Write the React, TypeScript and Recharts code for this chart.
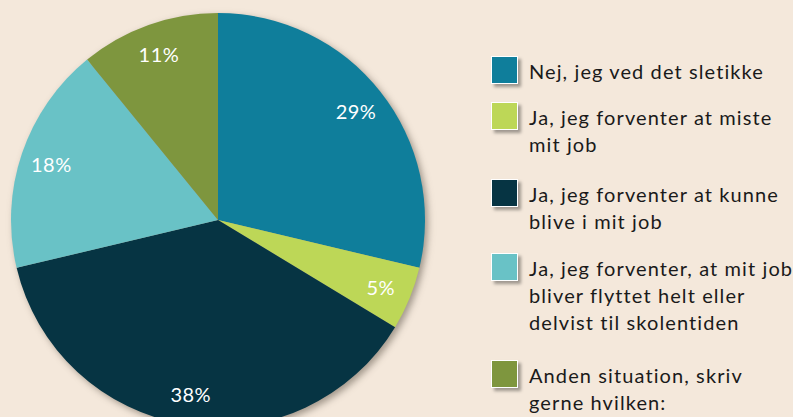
import React from 'react';
import { PieChart, Pie, Cell, Legend } from 'recharts';

const categories = [
  'Nej, jeg ved det sletikke',
  'Ja, jeg forventer at miste mit job',
  'Ja, jeg forventer at kunne blive i mit job',
  'Ja, jeg forventer, at mit job bliver flyttet helt eller delvist til skolentiden',
  'Anden situation, skriv gerne hvilken:',
];
const legendLines = [
  ['Nej, jeg ved det sletikke'],
  ['Ja, jeg forventer at miste', 'mit job'],
  ['Ja, jeg forventer at kunne', 'blive i mit job'],
  ['Ja, jeg forventer, at mit job', 'bliver flyttet helt eller', 'delvist til skolentiden'],
  ['Anden situation, skriv', 'gerne hvilken:'],
];
const values = [29, 5, 38, 18, 11];
const colors = ['#0F7E9B', '#BDD757', '#063443', '#69C2C6', '#7E963E'];

const data = categories.map((name, i) => ({ name, value: values[i] }));
const shadowData = [{ name: 'shadow', value: 1 }];

const FONT = 'Lato, "Open Sans", sans-serif';
const RADIAN = Math.PI / 180;

const renderLabel = (props: any) => {
  const { cx, cy, midAngle, outerRadius, value } = props;
  const r = outerRadius * 0.85;
  const x = cx + r * Math.cos(-midAngle * RADIAN);
  const y = cy + r * Math.sin(-midAngle * RADIAN);
  return (
    <text x={x} y={y} fill="#ffffff" textAnchor="middle" dominantBaseline="central"
      style={{ fontFamily: FONT, fontSize: 20, letterSpacing: 0.5 }}>
      {`${value}%`}
    </text>
  );
};

const itemGaps = [0, 17, 21, 18, 24];

const renderLegend = () => (
  <div style={{ fontFamily: FONT }}>
    {legendLines.map((lines, i) => (
      <div key={i} style={{ display: 'flex', alignItems: 'flex-start', marginTop: itemGaps[i] }}>
        <div style={{
          width: 25, height: 26, background: colors[i], border: '1.5px solid #ffffff',
          boxShadow: '3px 3px 3px rgba(0,0,0,0.35)', marginRight: 11, flexShrink: 0,
        }} />
        <div style={{ fontSize: 20, lineHeight: '27px', color: '#1a1a1a', marginTop: 2, letterSpacing: 1.1 }}>
          {lines.map((l, j) => (<div key={j} style={{ whiteSpace: 'nowrap' }}>{l}</div>))}
        </div>
      </div>
    ))}
  </div>
);

export default function App() {
  return (
    <div style={{ position: 'absolute', left: 0, top: 0, width: 793, height: 417, background: '#F4E8DB', overflow: 'hidden' }}>
      <style>{`.shadow-pie { filter: blur(2.5px); }`}</style>
      <PieChart width={793} height={417}>
        <Pie data={shadowData} dataKey="value" cx={216} cy={218} outerRadius={207}
          startAngle={90} endAngle={-270} isAnimationActive={false} stroke="none"
          fill="rgba(60,50,40,0.45)" className="shadow-pie" label={false} legendType="none" />
        <Pie data={data} dataKey="value" nameKey="name" cx={213} cy={215} outerRadius={207}
          startAngle={90} endAngle={-270} isAnimationActive={false} stroke="none"
          label={renderLabel} labelLine={false}>
          {data.map((d, i) => (<Cell key={d.name} fill={colors[i]} />))}
        </Pie>
        <Legend content={renderLegend} layout="vertical"
          wrapperStyle={{ position: 'absolute', left: 491, top: 56, width: 300 }} />
      </PieChart>
    </div>
  );
}
